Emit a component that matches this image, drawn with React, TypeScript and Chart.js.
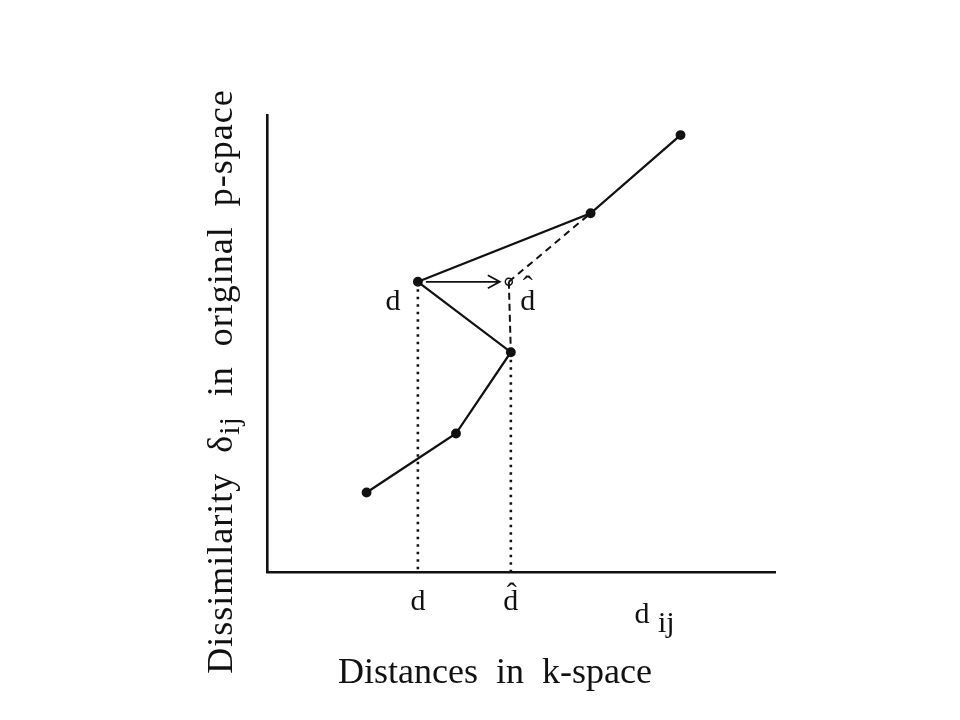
import React, { useEffect, useRef } from "react";
import { Chart, registerables } from "chart.js";

Chart.register(...registerables);

// Distances in k-space (x) and dissimilarities (y) of the configuration, in path order
const kDistances = [1.96, 3.72, 4.8, 2.97, 6.37, 8.14];
const dissimilarities = [1.74, 3.03, 4.81, 6.35, 7.85, 9.56];

// Fitted (monotone) value d-hat for the offending point
const dHatX = 4.76;
const dHatY = 6.35;

// Axis tick positions and labels
const tickValues = [2.97, 4.8];
const tickLabels = ["d", "d\u0302"];

// Position of the generic axis label d_ij (in x units)
const dijX = 7.38;

const xTitle = "Distances  in  k-space";
const yTitleA = "Dissimilarity  \u03b4";
const yTitleSub = "ij";
const yTitleB = "  in  original  p-space";

const INK = "#111";
const SERIF = '"Liberation Serif", "DejaVu Serif", serif';

const annotations = {
  id: "annotations",
  afterDatasetsDraw(chart: any) {
    const ctx = chart.ctx as CanvasRenderingContext2D;
    const xs = chart.scales.x;
    const ys = chart.scales.y;
    const area = chart.chartArea;
    ctx.save();
    ctx.fillStyle = INK;
    ctx.strokeStyle = INK;

    // arrow from d to d-hat
    const ax0 = xs.getPixelForValue(kDistances[3]) + 8;
    const ax1 = xs.getPixelForValue(dHatX) - 9;
    const ay = ys.getPixelForValue(dissimilarities[3]);
    ctx.lineWidth = 1.8;
    ctx.beginPath();
    ctx.moveTo(ax0, ay);
    ctx.lineTo(ax1, ay);
    ctx.moveTo(ax1 - 12, ay - 6.5);
    ctx.lineTo(ax1, ay);
    ctx.lineTo(ax1 - 12, ay + 6.5);
    ctx.stroke();

    // in-plot labels
    ctx.font = `30px ${SERIF}`;
    ctx.textAlign = "center";
    ctx.textBaseline = "alphabetic";
    const px4 = xs.getPixelForValue(kDistances[3]);
    ctx.fillText("d", px4 - 25, ay + 28);
    const phx = xs.getPixelForValue(dHatX);
    const phy = ys.getPixelForValue(dHatY);
    ctx.fillText("d", phx + 19, phy + 28);
    ctx.fillText("\u02c6", phx + 19, phy + 14);

    // d_ij below the x axis
    const dx = xs.getPixelForValue(dijX);
    ctx.fillText("d", dx, area.bottom + 51);
    ctx.textAlign = "left";
    ctx.fillText("ij", dx + 16, area.bottom + 60);

    // x axis title
    ctx.font = `36px ${SERIF}`;
    ctx.textAlign = "center";
    ctx.fillText(xTitle, (area.left + area.right) / 2 - 26, area.bottom + 111);

    // y axis title (rotated)
    ctx.translate(area.left - 35, (area.top + area.bottom) / 2 + 38);
    ctx.rotate(-Math.PI / 2);
    (ctx as any).letterSpacing = "1px";
    ctx.textAlign = "left";
    ctx.font = `36px ${SERIF}`;
    const wA = ctx.measureText(yTitleA).width;
    const wB = ctx.measureText(yTitleB).width;
    ctx.font = `30px ${SERIF}`;
    const wS = ctx.measureText(yTitleSub).width;
    const total = wA + wS + wB;
    let cx = -total / 2;
    ctx.font = `36px ${SERIF}`;
    ctx.fillText(yTitleA, cx, 0);
    cx += wA;
    ctx.font = `30px ${SERIF}`;
    ctx.fillText(yTitleSub, cx, 7);
    cx += wS;
    ctx.font = `36px ${SERIF}`;
    ctx.fillText(yTitleB, cx, 0);

    ctx.restore();
  },
};

export default function App() {
  const ref = useRef<HTMLCanvasElement | null>(null);

  useEffect(() => {
    if (!ref.current) return;
    const mainPoints = kDistances.map((x, i) => ({ x, y: dissimilarities[i] }));
    const chart = new Chart(ref.current, {
      type: "scatter",
      data: {
        datasets: [
          {
            data: [
              { x: kDistances[3], y: dissimilarities[3] },
              { x: kDistances[3], y: 0 },
            ],
            showLine: true,
            borderColor: INK,
            borderWidth: 2.6,
            borderDash: [2.5, 5],
            pointRadius: 0,
          },
          {
            data: [
              { x: kDistances[2], y: dissimilarities[2] },
              { x: kDistances[2], y: 0 },
            ],
            showLine: true,
            borderColor: INK,
            borderWidth: 2.6,
            borderDash: [2.5, 5],
            pointRadius: 0,
          },
          {
            data: [
              { x: dHatX, y: dHatY },
              { x: kDistances[2], y: dissimilarities[2] },
            ],
            showLine: true,
            borderColor: INK,
            borderWidth: 2,
            borderDash: [7, 4],
            pointRadius: 0,
          },
          {
            data: [
              { x: dHatX, y: dHatY },
              { x: kDistances[4], y: dissimilarities[4] },
            ],
            showLine: true,
            borderColor: INK,
            borderWidth: 2,
            borderDash: [7, 5],
            pointRadius: 0,
          },
          {
            data: mainPoints,
            showLine: true,
            borderColor: INK,
            borderWidth: 2.3,
            pointRadius: 3.8,
            pointBackgroundColor: INK,
            pointBorderColor: INK,
            tension: 0,
          },
          {
            data: [{ x: dHatX, y: dHatY }],
            pointRadius: 3.5,
            pointBackgroundColor: "#fff",
            pointBorderColor: INK,
            pointBorderWidth: 1.5,
          },
        ],
      },
      options: {
        animation: false,
        responsive: false,
        events: [],
        layout: { padding: { left: 267, right: 185, top: 115, bottom: 0 } },
        plugins: {
          legend: { display: false },
          tooltip: { enabled: false },
        },
        scales: {
          x: {
            type: "linear",
            min: 0,
            max: 10,
            grid: { display: false, drawTicks: false },
            border: { display: true, color: INK, width: 2.6 },
            afterBuildTicks: (s: any) => {
              s.ticks = tickValues.map((v) => ({ value: v }));
            },
            afterFit: (s: any) => {
              s.height = 148;
            },
            ticks: {
              autoSkip: false,
              maxRotation: 0,
              padding: 12,
              color: INK,
              font: { family: SERIF, size: 30 },
              callback: (_v: any, i: number) => tickLabels[i],
            },
          },
          y: {
            type: "linear",
            min: 0,
            max: 10,
            grid: { display: false, drawTicks: false },
            border: { display: true, color: INK, width: 2.6 },
            ticks: { display: false },
            afterFit: (s: any) => {
              s.width = 0;
            },
          },
        },
      },
      plugins: [annotations],
    });
    return () => chart.destroy();
  }, []);

  return (
    <div style={{ position: "absolute", left: 0, top: 0, width: 960, height: 720, background: "#fff" }}>
      <canvas ref={ref} width={960} height={720} />
    </div>
  );
}
